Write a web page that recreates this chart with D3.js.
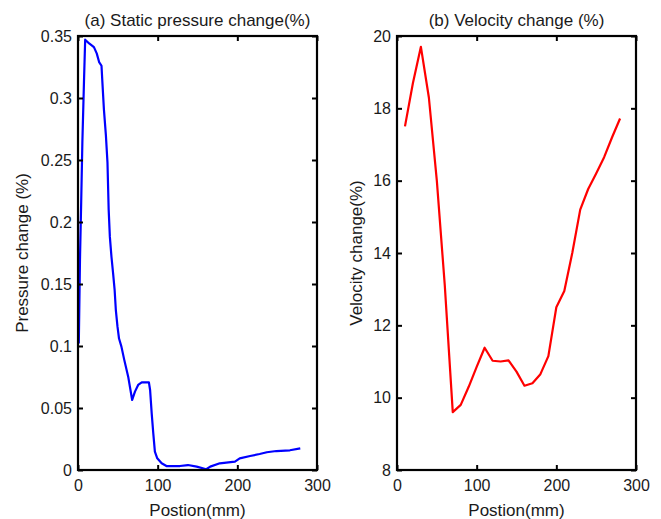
<!DOCTYPE html>
<html>
<head>
<meta charset="utf-8">
<script src="https://cdn.jsdelivr.net/npm/d3@7"></script>
<style>
  html, body { margin: 0; padding: 0; background: #fff; }
  svg { display: block; }
  text { font-family: "Liberation Sans", Arial, sans-serif; fill: #1a1a1a; }
</style>
</head>
<body>
<svg id="chart" width="661" height="519"></svg>
<script>
// ---- Data ----
const pressurePos = [1, 2.5, 4, 5.5, 7.5, 9, 14, 20, 23.5, 26.5, 29.5, 30.5, 32.5, 35, 37, 38.5, 40, 42, 44, 46, 47.5, 49.5, 51.5, 54.5, 58, 63, 68, 71.5, 75.5, 80, 89, 90.5, 92.5, 94.5, 96.5, 99.5, 105, 111, 128, 138, 149, 161, 166, 178, 197, 203, 216, 228, 237, 249, 266, 279];
const pressureVal = [0.102, 0.17, 0.216, 0.265, 0.313, 0.347, 0.344, 0.341, 0.336, 0.329, 0.326, 0.314, 0.291, 0.27, 0.248, 0.21, 0.188, 0.172, 0.159, 0.145, 0.129, 0.116, 0.106, 0.0995, 0.089, 0.0753, 0.0565, 0.0632, 0.0686, 0.0707, 0.0707, 0.0645, 0.0457, 0.0296, 0.0148, 0.0094, 0.0054, 0.0032, 0.0032, 0.004, 0.0027, 0.0006, 0.0027, 0.0054, 0.0067, 0.0094, 0.0113, 0.0129, 0.0143, 0.0153, 0.0159, 0.0175];

const velocityPos = [10, 20, 30, 40, 50, 60, 70, 80, 90, 100, 110, 120, 130, 140, 150, 160, 170, 180, 190, 200, 210, 220, 230, 240, 250, 260, 270, 280];
const velocityVal = [17.5, 18.7, 19.7, 18.3, 16.0, 13.1, 9.6, 9.8, 10.3, 10.85, 11.38, 11.02, 11.0, 11.03, 10.72, 10.33, 10.4, 10.65, 11.15, 12.5, 12.95, 14.0, 15.2, 15.77, 16.2, 16.65, 17.2, 17.72];

const xTicks = [0, 100, 200, 300];
const pressureTicks = [0, 0.05, 0.1, 0.15, 0.2, 0.25, 0.3, 0.35];
const pressureTickLabels = ["0", "0.05", "0.1", "0.15", "0.2", "0.25", "0.3", "0.35"];
const velocityTicks = [8, 10, 12, 14, 16, 18, 20];

const panels = [
  { title: "(a) Static pressure change(%)", ylabel: "Pressure change (%)", xlabel: "Postion(mm)",
    xs: pressurePos, ys: pressureVal, yDomain: [0, 0.35], yTicks: pressureTicks, yLabels: pressureTickLabels,
    color: "#0000ff", left: 78, right: 317, ylabX: 22 },
  { title: "(b) Velocity change (%)", ylabel: "Velocity change(%)", xlabel: "Postion(mm)",
    xs: velocityPos, ys: velocityVal, yDomain: [8, 20], yTicks: velocityTicks, yLabels: velocityTicks.map(String),
    color: "#ff0000", left: 397, right: 636, ylabX: 356 }
];

const plotTop = 36, plotBottom = 470;
const svg = d3.select("#chart");

panels.forEach(p => {
  const x = d3.scaleLinear().domain([0, 300]).range([p.left, p.right]);
  const y = d3.scaleLinear().domain(p.yDomain).range([plotBottom, plotTop]);
  const g = svg.append("g");

  // data line
  const data = p.xs.map((v, i) => [v, p.ys[i]]);
  g.append("path")
    .datum(data)
    .attr("fill", "none")
    .attr("stroke", p.color)
    .attr("stroke-width", 2.2)
    .attr("stroke-linejoin", "round")
    .attr("d", d3.line().x(d => x(d[0])).y(d => y(d[1])));

  // axes with inward ticks
  const axB = g.append("g").attr("transform", `translate(0,${plotBottom})`)
    .call(d3.axisBottom(x).tickValues(xTicks).tickSizeInner(-5).tickSizeOuter(0).tickPadding(10).tickFormat(d3.format("d")));
  const axT = g.append("g").attr("transform", `translate(0,${plotTop})`)
    .call(d3.axisTop(x).tickValues(xTicks).tickSizeInner(-5).tickSizeOuter(0).tickFormat(""));
  const axL = g.append("g").attr("transform", `translate(${p.left},0)`)
    .call(d3.axisLeft(y).tickValues(p.yTicks).tickSizeInner(-5).tickSizeOuter(0).tickPadding(6)
      .tickFormat(d => p.yLabels[p.yTicks.indexOf(d)]));
  const axR = g.append("g").attr("transform", `translate(${p.right},0)`)
    .call(d3.axisRight(y).tickValues(p.yTicks).tickSizeInner(-5).tickSizeOuter(0).tickFormat(""));

  [axB, axT, axL, axR].forEach(a => {
    a.select(".domain").remove();
    a.selectAll(".tick line").attr("stroke", "#000").attr("stroke-width", 2);
    a.selectAll("text").attr("font-size", 16).attr("fill", "#1a1a1a")
      .attr("font-family", "'Liberation Sans', Arial, sans-serif");
  });

  // frame
  g.append("rect")
    .attr("x", p.left).attr("y", plotTop)
    .attr("width", p.right - p.left).attr("height", plotBottom - plotTop)
    .attr("fill", "none").attr("stroke", "#000").attr("stroke-width", 2.2);

  // title
  g.append("text")
    .attr("x", (p.left + p.right) / 2).attr("y", 26)
    .attr("text-anchor", "middle").attr("font-size", 17)
    .text(p.title);

  // x label
  g.append("text")
    .attr("x", (p.left + p.right) / 2).attr("y", 516)
    .attr("text-anchor", "middle").attr("font-size", 17)
    .text(p.xlabel);

  // y label
  g.append("text")
    .attr("transform", `translate(${p.ylabX},${(plotTop + plotBottom) / 2}) rotate(-90)`)
    .attr("text-anchor", "middle").attr("dy", "0.35em").attr("font-size", 17)
    .text(p.ylabel);
});
</script>
</body>
</html>
